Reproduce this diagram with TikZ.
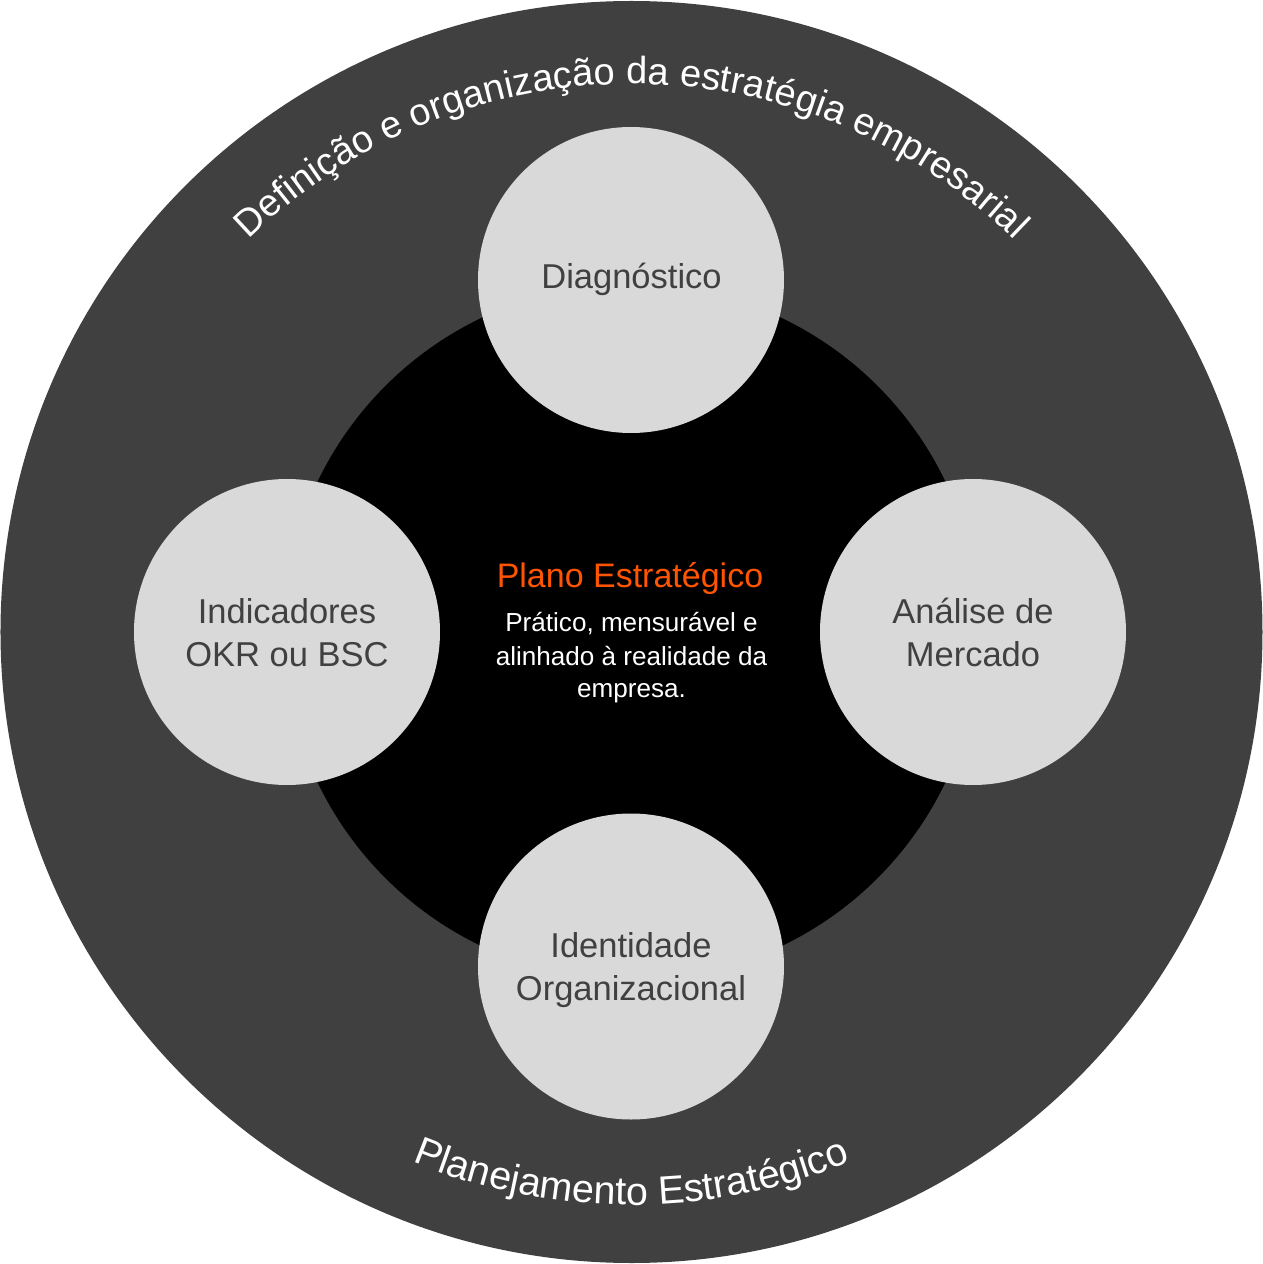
\documentclass[tikz,border=0pt]{standalone}
\usepackage{fontspec}
\setmainfont{Liberation Sans}
\usetikzlibrary{decorations.text}
\definecolor{outerc}{HTML}{404040}
\definecolor{lightc}{HTML}{D9D9D9}
\definecolor{darktxt}{HTML}{404040}
\definecolor{orangec}{HTML}{FF5400}
\tikzset{
  bubble/.style={circle, fill=lightc, minimum size=306pt, inner sep=0pt},
  bubbletxt/.style={text=darktxt, font=\fontsize{34.5}{43}\selectfont, align=center, anchor=base, inner sep=0pt},
  titletxt/.style={text=orangec, font=\fontsize{34}{40}\selectfont, anchor=base, inner sep=0pt},
  bodytxt/.style={text=white, font=\fontsize{26.1}{33}\selectfont, anchor=base, inner sep=0pt},
}
\begin{document}
\begin{tikzpicture}[x=1pt,y=1pt]
\useasboundingbox (-631.5,-632) rectangle (631.5,632);
\fill[outerc] (0,0) circle[radius=631pt];
\fill[black] (0,0) circle[radius=348pt];
\node[bubble] (diag) at (-0.5,352) {};
\node[bubble] (ind) at (-344.5,0) {};
\node[bubble] (ana) at (341.5,0) {};
\node[bubble] (ide) at (-0.5,-334.5) {};
% bubble texts
\node[bubbletxt] (diagt) at (0,343) {Diagnóstico};
\node[bubbletxt] (indt1) at (-344.5,9) {Indicadores};
\node[bubbletxt] (indt2) at (-344.5,-34) {OKR ou BSC};
\node[bubbletxt] (anat1) at (341.5,9) {Análise de};
\node[bubbletxt] (anat2) at (341.5,-34) {Mercado};
\node[bubbletxt] (idet1) at (-0.5,-325) {Identidade};
\node[bubbletxt] (idet2) at (-0.5,-368) {Organizacional};
% center texts
\node[titletxt] (title) at (-1.5,45) {Plano Estratégico};
\node[bodytxt] (body1) at (0,1) {Prático, mensurável e};
\node[bodytxt] (body2) at (0,-33) {alinhado à realidade da};
\node[bodytxt] (body3) at (0,-65) {empresa.};
% curved texts
\path[decorate, decoration={text along path, text align=center,
  text={|\color{white}\fontsize{38}{38}\selectfont|Definição e organização da estratégia empresarial}}]
  (180:548pt) arc[start angle=180, end angle=0, radius=548pt];
\path[decorate, decoration={text along path, text align=center,
  text={|\color{white}\fontsize{39.5}{39.5}\selectfont|Planejamento Estratégico}}]
  (180:573pt) arc[start angle=180, end angle=360, radius=573pt];
\end{tikzpicture}
\end{document}
